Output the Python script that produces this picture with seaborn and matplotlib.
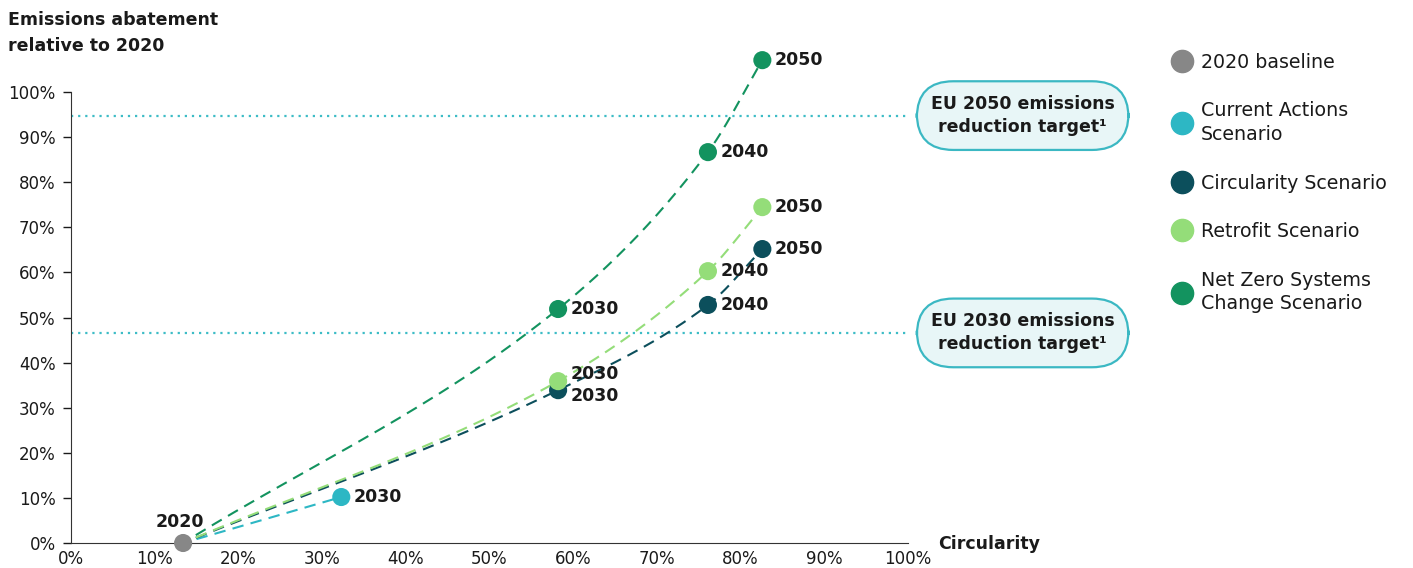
import numpy as np
import pandas as pd
import matplotlib
matplotlib.use("Agg")
import matplotlib.pyplot as plt
from matplotlib.lines import Line2D
import seaborn as sns

# data (circularity %, abatement %)
scenarios = ["2020 baseline", "Current Actions Scenario", "Circularity Scenario",
             "Retrofit Scenario", "Net Zero Systems Change Scenario"]
legend_labels = ["2020 baseline", "Current Actions\nScenario", "Circularity Scenario",
                 "Retrofit Scenario", "Net Zero Systems\nChange Scenario"]
colors = ["#878787", "#2db7c4", "#0c4f5c", "#94dd79", "#13935f"]

baseline_x = [13.4]
baseline_y = [0.0]
current_years = [2030]
current_x = [32.3]
current_y = [10.2]
circ_years = [2030, 2040, 2050]
circ_x = [58.2, 76.1, 82.6]
circ_y = [33.9, 52.8, 65.2]
retro_years = [2030, 2040, 2050]
retro_x = [58.2, 76.1, 82.6]
retro_y = [35.9, 60.3, 74.5]
nz_years = [2030, 2040, 2050]
nz_x = [58.2, 76.1, 82.6]
nz_y = [51.9, 86.7, 107.1]

target_2050 = 94.8
target_2030 = 46.6

rows = [(scenarios[0], 2020, baseline_x[0], baseline_y[0])]
for name, yrs, xs, ys in [(scenarios[1], current_years, current_x, current_y),
                          (scenarios[2], circ_years, circ_x, circ_y),
                          (scenarios[3], retro_years, retro_x, retro_y),
                          (scenarios[4], nz_years, nz_x, nz_y)]:
    for yr, x, y in zip(yrs, xs, ys):
        rows.append((name, yr, x, y))
df = pd.DataFrame(rows, columns=["scenario", "year", "circularity", "abatement"])


def smooth_path(xs, ys, n=60):
    # monotone cubic (Fritsch-Carlson) so segments stay nearly straight with soft joints
    xs = np.asarray(xs, float)
    ys = np.asarray(ys, float)
    h = np.diff(xs)
    d = np.diff(ys) / h
    m = np.empty(len(xs))
    m[0], m[-1] = d[0], d[-1]
    for k in range(1, len(xs) - 1):
        if d[k - 1] * d[k] > 0:
            w1 = 2 * h[k] + h[k - 1]
            w2 = h[k] + 2 * h[k - 1]
            m[k] = (w1 + w2) / (w1 / d[k - 1] + w2 / d[k])
        else:
            m[k] = 0
    px, py = [], []
    for k in range(len(xs) - 1):
        t = np.linspace(0, 1, n)
        h00 = 2 * t**3 - 3 * t**2 + 1
        h10 = t**3 - 2 * t**2 + t
        h01 = -2 * t**3 + 3 * t**2
        h11 = t**3 - t**2
        px.append(xs[k] + t * h[k])
        py.append(h00 * ys[k] + h10 * h[k] * m[k] + h01 * ys[k + 1] + h11 * h[k] * m[k + 1])
    return np.concatenate(px), np.concatenate(py)


sns.set_style("ticks")
plt.rcParams["font.family"] = ["DejaVu Sans"]
txt = "#1a1a1a"
fs = 12.5

fig = plt.figure(figsize=(14.13, 5.68), dpi=100)
ax = fig.add_axes([0.0502, 0.044, 0.5924, 0.889])

# dotted target lines
for t in [target_2050, target_2030]:
    ax.axhline(t, color="#3dbcc6", lw=1.6, ls=(0, (1, 2.2)), zorder=1)

# dashed paths from 2020 baseline through each scenario's points
for name, col in zip(scenarios[1:], colors[1:]):
    sub = df[df.scenario == name]
    xs = np.r_[baseline_x, sub.circularity.values]
    ys = np.r_[baseline_y, sub.abatement.values]
    px, py = smooth_path(xs, ys)
    keep = px >= xs[0] + 1.5
    ax.plot(px[keep], py[keep], color=col, lw=1.5, ls=(0, (5.5, 3.5)), zorder=2)

sns.scatterplot(data=df, x="circularity", y="abatement", hue="scenario",
                hue_order=scenarios, palette=colors, s=170, edgecolor="none",
                legend=False, zorder=4, clip_on=False, ax=ax)

# year labels
lab_kw = dict(fontsize=fs, fontweight="bold", color=txt, va="center", zorder=5)
ax.annotate("2020", (baseline_x[0], baseline_y[0]), xytext=(-2, 15),
            textcoords="offset points", ha="center", **lab_kw)
ax.annotate("2030", (current_x[0], current_y[0]), xytext=(9, 0),
            textcoords="offset points", ha="left", **lab_kw)
for i, yr in enumerate(circ_years):
    dy = -4 if i == 0 else 0
    ax.annotate(str(yr), (circ_x[i], circ_y[i]), xytext=(9, dy),
                textcoords="offset points", ha="left", **lab_kw)
for i, yr in enumerate(retro_years):
    dy = 5 if i == 0 else 0
    ax.annotate(str(yr), (retro_x[i], retro_y[i]), xytext=(9, dy),
                textcoords="offset points", ha="left", **lab_kw)
for i, yr in enumerate(nz_years):
    ax.annotate(str(yr), (nz_x[i], nz_y[i]), xytext=(9, 0),
                textcoords="offset points", ha="left", annotation_clip=False, **lab_kw)

# target boxes
box = dict(boxstyle="round,pad=0.8,rounding_size=2.1", fc="#e8f6f7", ec="#3bb8c3", lw=1.6)
for t, s in [(target_2050, "EU 2050 emissions\nreduction target¹"),
             (target_2030, "EU 2030 emissions\nreduction target¹")]:
    ax.text(113.7, t, s, ha="center", va="center", fontsize=fs, fontweight="bold",
            color=txt, bbox=box, clip_on=False, linespacing=1.35, zorder=6)

# axes styling
ax.set_xlim(0, 100)
ax.set_ylim(0, 112)
ax.set_xticks(np.arange(0, 101, 10))
ax.set_yticks(np.arange(0, 101, 10))
ax.set_xticklabels([f"{v}%" for v in range(0, 101, 10)])
ax.set_yticklabels([f"{v}%" for v in range(0, 101, 10)])
ax.tick_params(axis="x", length=0, pad=5, labelsize=12, colors=txt)
ax.tick_params(axis="y", length=6, width=1, pad=5, labelsize=12, colors=txt)
ax.spines["left"].set_bounds(0, 100)
ax.spines["top"].set_visible(False)
ax.spines["right"].set_visible(False)
ax.spines["left"].set_color("#333333")
ax.spines["bottom"].set_color("#333333")
ax.set_xlabel("")
ax.set_ylabel("")

fig.text(8 / 1413, 1 - 33 / 568, "Emissions abatement\nrelative to 2020", ha="left", va="center",
         fontsize=fs, fontweight="bold", color=txt, linespacing=1.6)
fig.text(938 / 1413, 1 - 544 / 568, "Circularity", ha="left", va="center",
         fontsize=fs, fontweight="bold", color=txt)

handles = [Line2D([], [], marker="o", ls="none", color=c, markersize=16) for c in colors]
leg = fig.legend(handles, legend_labels, loc="upper left", bbox_to_anchor=(1165 / 1413, 1 - 45 / 568),
                 frameon=False, fontsize=13.7, handletextpad=0.5, labelspacing=1.55,
                 handlelength=1.0, borderaxespad=0)
for t in leg.get_texts():
    t.set_color(txt)
    t.set_linespacing(1.33)

fig.savefig("out.png", dpi=100)
